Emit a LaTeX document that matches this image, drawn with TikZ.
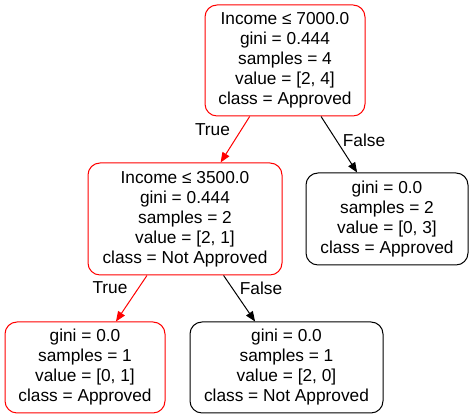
\documentclass[tikz,border=0pt]{standalone}
\usepackage{fontspec}
\setmainfont{Liberation Sans}
\usetikzlibrary{arrows.meta}
\begin{document}
\begin{tikzpicture}[x=1pt,y=1pt,
  treenode/.style={draw, line width=1pt, rounded corners=12pt, align=center, inner sep=0pt,
    font=\fontsize{17.3}{20}\selectfont},
  redbox/.style={treenode, draw=red},
  blackbox/.style={treenode, draw=black},
  edge/.style={line width=1pt, -{Triangle[length=10pt,width=8pt]}},
  lbl/.style={font=\fontsize{17.3}{20}\selectfont, inner sep=0pt}
]
\useasboundingbox (0,0) rectangle (472,419);
\node[redbox, minimum width=160pt, minimum height=111pt] (root) at (285,358.5)
  {Income ≤ 7000.0\\gini = 0.444\\samples = 4\\value = [2, 4]\\class = Approved};
\node[redbox, minimum width=194pt, minimum height=112pt] (n1) at (185,200)
  {Income ≤ 3500.0\\gini = 0.444\\samples = 2\\value = [2, 1]\\class = Not Approved};
\node[blackbox, minimum width=162pt, minimum height=92pt] (n2) at (387,200)
  {gini = 0.0\\samples = 2\\value = [0, 3]\\class = Approved};
\node[redbox, minimum width=160pt, minimum height=91pt] (l1) at (85,51.5)
  {gini = 0.0\\samples = 1\\value = [0, 1]\\class = Approved};
\node[blackbox, minimum width=193pt, minimum height=91pt] (l2) at (286.5,51.5)
  {gini = 0.0\\samples = 1\\value = [2, 0]\\class = Not Approved};
\draw[edge, red] (root) -- (n1);
\draw[edge, black] (root) -- (n2);
\draw[edge, red] (n1) -- (l1);
\draw[edge, black] (n1) -- (l2);
\node[lbl] (t1) at (212.5,289) {True};
\node[lbl] (f1) at (364,279) {False};
\node[lbl] (t2) at (110,131) {True};
\node[lbl] (f2) at (261,131) {False};
\end{tikzpicture}
\end{document}
